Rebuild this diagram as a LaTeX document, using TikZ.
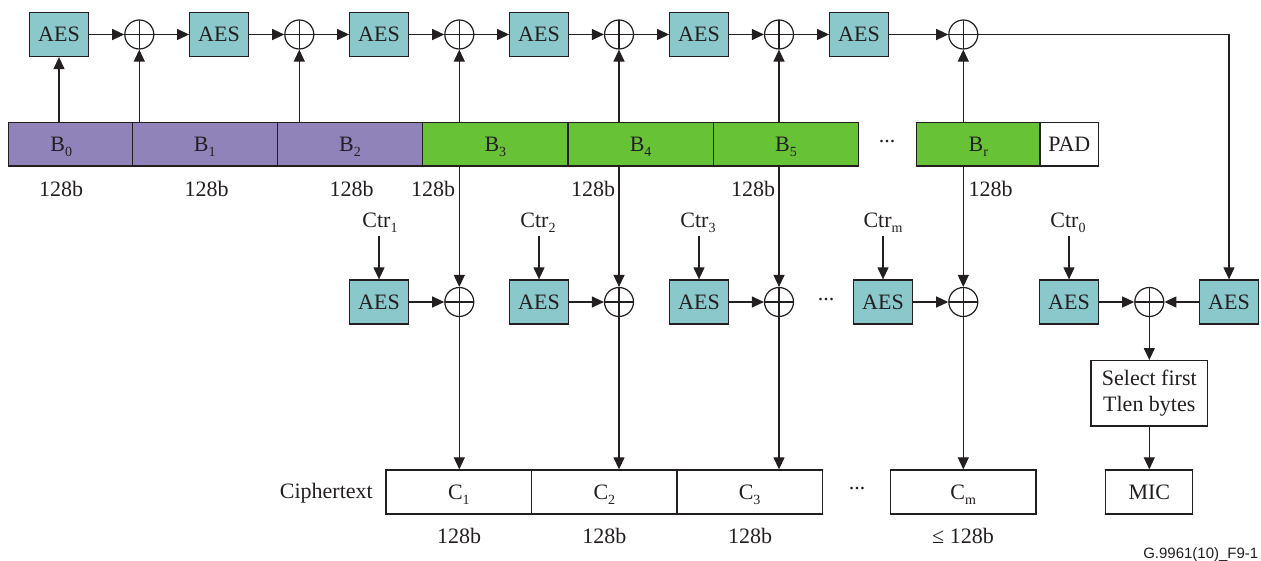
\documentclass[tikz,border=0pt]{standalone}
\usepackage{fontspec}
\setmainfont{Liberation Serif}
\newfontfamily\labelsans{Liberation Sans}
\usetikzlibrary{arrows.meta}
\definecolor{aesfill}{RGB}{139,200,204}
\definecolor{purp}{RGB}{143,131,186}
\definecolor{grn}{RGB}{104,194,53}
\definecolor{ink}{RGB}{35,31,32}
\newcommand\sbs[1]{\raisebox{-5pt}{\fontsize{14}{14}\selectfont #1}}
\begin{document}
\begin{tikzpicture}[x=1pt,y=-1pt,
  font=\fontsize{22}{26}\selectfont,
  every node/.style={text=ink},
  ln/.style={draw=ink, line width=1.2pt},
  arr/.style={ln, -{Triangle[length=12pt,width=11pt]}},
  bx/.style={draw=ink, line width=1.3pt, inner sep=0pt, text height=14.5pt, text depth=0pt},
  aes/.style={bx, fill=aesfill, minimum width=58.5pt, minimum height=44pt},
  blk/.style={bx, minimum height=43.3pt, minimum width=145.3pt},
  cblk/.style={bx, minimum height=44pt, minimum width=145.5pt},
  xorn/.style={circle, draw=ink, line width=1.2pt, minimum size=29pt, inner sep=0pt,
    path picture={\draw[ink, line width=1.2pt] (path picture bounding box.north) -- (path picture bounding box.south)
      (path picture bounding box.west) -- (path picture bounding box.east);}},
  lbl/.style={inner sep=0pt, anchor=base},
  ctr/.style={anchor=base, inner sep=5pt, text depth=3pt},
  ellip/.style={inner sep=0pt}
]
\useasboundingbox (0,0) rectangle (1261,561);

% top row
\node[aes] (A1) at (59,34.5) {AES};
\node[aes] (A2) at (219,34.5) {AES};
\node[aes] (A3) at (379,34.5) {AES};
\node[aes] (A4) at (539,34.5) {AES};
\node[aes] (A5) at (699,34.5) {AES};
\node[aes] (A6) at (859,34.5) {AES};
\node[xorn] (X1) at (139.3,34.5) {};
\node[xorn] (X2) at (299.3,34.5) {};
\node[xorn] (X3) at (459.3,34.5) {};
\node[xorn] (X4) at (619,34.5) {};
\node[xorn] (X5) at (779,34.5) {};
\node[xorn] (X6) at (963.3,34.5) {};

% blocks
\node[blk, fill=purp, minimum width=124pt] (B0) at (70.3,144.3) {\hspace*{-18pt}B\sbs{0}};
\node[blk, fill=purp] (B1) at (204.8,144.3) {B\sbs{1}};
\node[blk, fill=purp] (B2) at (350,144.3) {B\sbs{2}};
\node[blk, fill=grn] (B3) at (495.35,144.3) {B\sbs{3}};
\node[blk, fill=grn] (B4) at (640.65,144.3) {B\sbs{4}};
\node[blk, fill=grn] (B5) at (786,144.3) {B\sbs{5}};
\node[ellip] (dt) at (887,142) {...};
\node[blk, fill=grn, minimum width=123.3pt] (Br) at (978.35,144.3) {B\sbs{r}};
\node[blk, fill=white, minimum width=58.7pt] (PAD) at (1069.35,144.3) {PAD};

% 128b labels
\node[lbl] (t0) at (61,197) {128b};
\node[lbl] (t1) at (206.7,197) {128b};
\node[lbl] (t2) at (351.7,197) {128b};
\node[lbl] (t3) at (433,197) {128b};
\node[lbl] (t4) at (593,197) {128b};
\node[lbl] (t5) at (753,197) {128b};
\node[lbl] (tr) at (990.5,197) {128b};

% counters
\node[ctr] (c1) at (380,228) {Ctr\sbs{1}};
\node[ctr] (c2) at (538,228) {Ctr\sbs{2}};
\node[ctr] (c3) at (698,228) {Ctr\sbs{3}};
\node[ctr] (cm) at (883,228) {Ctr\sbs{m}};
\node[ctr] (c0) at (1068,228) {Ctr\sbs{0}};

% middle row
\node[aes] (M1) at (379,302) {AES};
\node[aes] (M2) at (539,302) {AES};
\node[aes] (M3) at (699,302) {AES};
\node[aes] (Mm) at (883,302) {AES};
\node[aes] (M0) at (1069,302) {AES};
\node[aes] (MR) at (1229,302) {AES};
\node[xorn] (Y1) at (459.3,302) {};
\node[xorn] (Y2) at (619,302) {};
\node[xorn] (Y3) at (779,302) {};
\node[xorn] (Ym) at (963.3,302) {};
\node[xorn] (Yf) at (1149.3,302) {};
\node[ellip] (dm) at (826,300) {...};

% select and MIC
\node[draw=ink, line width=1.3pt, minimum width=116.7pt, minimum height=65.3pt, align=center, inner sep=0pt] (S) at (1149.3,393.3) {Select first\\Tlen bytes};
\node[bx, minimum width=87pt, minimum height=44pt] (MIC) at (1149.3,492) {MIC};

% ciphertext
\node[anchor=base east, inner sep=0pt] (ct) at (373,498.3) {Ciphertext};
\node[cblk] (C1) at (458.85,492) {C\sbs{1}};
\node[cblk] (C2) at (604.35,492) {C\sbs{2}};
\node[cblk] (C3) at (749.65,492) {C\sbs{3}};
\node[ellip] (db) at (857,489) {...};
\node[cblk] (Cm) at (963.15,492) {C\sbs{m}};

\node[lbl] (d1) at (459,543) {128b};
\node[lbl] (d2) at (604.3,543) {128b};
\node[lbl] (d3) at (750,543) {128b};
\node[lbl] (dmm) at (963,543) {≤ 128b};

\node[anchor=base east, inner sep=0pt, font=\labelsans\fontsize{15}{15}\selectfont] (fig) at (1258.5,558) {G.9961(10)\_F9-1};

% top connectors
\draw[arr] (A1) -- (X1);
\draw[arr] (X1) -- (A2);
\draw[arr] (A2) -- (X2);
\draw[arr] (X2) -- (A3);
\draw[arr] (A3) -- (X3);
\draw[arr] (X3) -- (A4);
\draw[arr] (A4) -- (X4);
\draw[arr] (X4) -- (A5);
\draw[arr] (A5) -- (X5);
\draw[arr] (X5) -- (A6);
\draw[arr] (A6) -- (X6);
\draw[arr] (X6.east) -| (MR.north);

\draw[arr] (B0.north -| A1) -- (A1.south);
\draw[arr] (B1.north -| X1) -- (X1.south);
\draw[arr] (B2.north -| X2) -- (X2.south);
\draw[arr] (B3.north -| X3) -- (X3.south);
\draw[arr] (B4.north -| X4) -- (X4.south);
\draw[arr] (B5.north -| X5) -- (X5.south);
\draw[arr] (Br.north -| X6) -- (X6.south);

% down to middle
\draw[arr] (B3.south -| Y1) -- (Y1.north);
\draw[arr] (B4.south -| Y2) -- (Y2.north);
\draw[arr] (B5.south -| Y3) -- (Y3.north);
\draw[arr] (Br.south -| Ym) -- (Ym.north);

\draw[arr] (M1.north |- c1.south) -- (M1.north);
\draw[arr] (M2.north |- c2.south) -- (M2.north);
\draw[arr] (M3.north |- c3.south) -- (M3.north);
\draw[arr] (Mm.north |- cm.south) -- (Mm.north);
\draw[arr] (M0.north |- c0.south) -- (M0.north);

\draw[arr] (M1) -- (Y1);
\draw[arr] (M2) -- (Y2);
\draw[arr] (M3) -- (Y3);
\draw[arr] (Mm) -- (Ym);
\draw[arr] (M0) -- (Yf);
\draw[arr] (MR) -- (Yf);

\draw[arr] (Y1.south) -- (Y1.south |- C1.north);
\draw[arr] (Y2.south) -- (Y2.south |- C2.north);
\draw[arr] (Y3.south) -- (Y3.south |- C3.north);
\draw[arr] (Ym.south) -- (Ym.south |- Cm.north);

\draw[arr] (Yf) -- (S);
\draw[arr] (S) -- (MIC);
\end{tikzpicture}
\end{document}
